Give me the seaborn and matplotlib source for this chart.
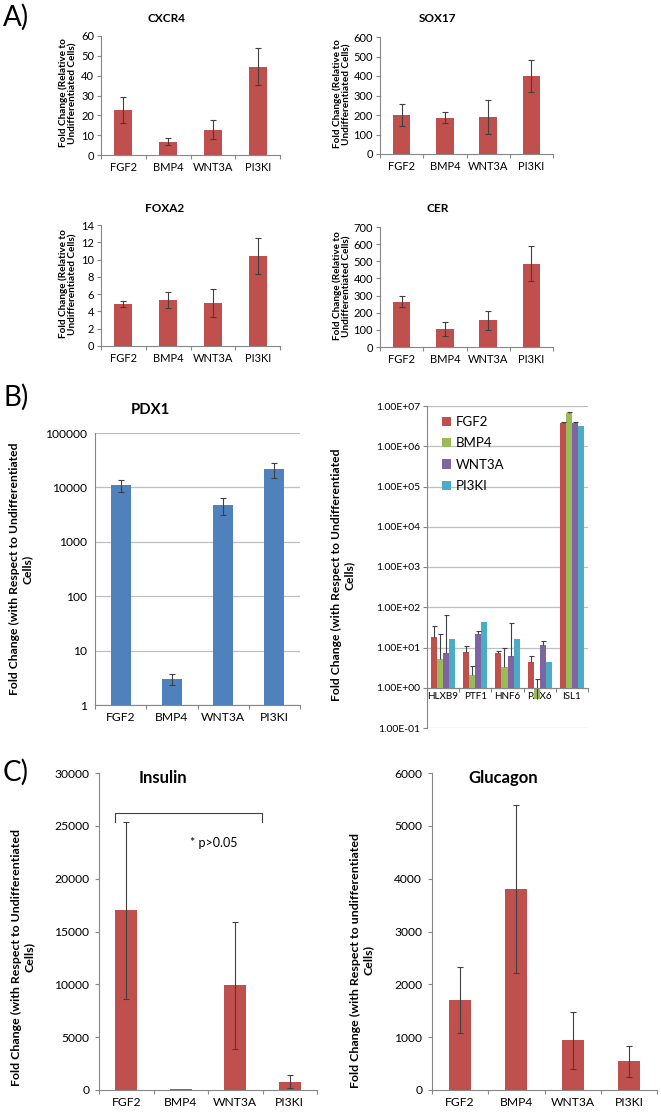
import numpy as np
import pandas as pd
import matplotlib
matplotlib.use("Agg")
import matplotlib.pyplot as plt
from matplotlib.ticker import FuncFormatter, NullLocator
import seaborn as sns

plt.rcParams["font.family"] = ["Lato", "DejaVu Sans"]

W, H = 661, 1116

treatments = ["FGF2", "BMP4", "WNT3A", "PI3KI"]

# panel A
cxcr4 = [22.6, 6.7, 12.7, 44.6]
cxcr4_err = [6.5, 1.7, 4.7, 9.3]
sox17 = [200, 185, 192, 401]
sox17_err = [55, 28, 87, 82]
foxa2 = [4.9, 5.3, 5.0, 10.4]
foxa2_err = [0.33, 0.95, 1.65, 2.1]
cer = [265, 103, 157, 487]
cer_err = [33, 40, 55, 103]

# panel B
pdx1 = [11000, 3.0, 4750, 21400]
pdx1_err = [2900, 0.7, 1700, 6800]

genes = ["HLXB9", "PTF1", "HNF6", "PAX6", "ISL1"]
fgf2_genes = [18.4, 7.7, 7.2, 4.4, 3.8e6]
fgf2_genes_err = [16.6, 3.4, 1.0, 1.6, 1e5]
bmp4_genes = [5.2, 2.1, 3.3, 0.52, 6.8e6]
bmp4_genes_err = [16.2, 1.3, 6.2, 1.14, 2e5]
wnt3a_genes = [7.2, 21.8, 6.2, 11.5, 3.8e6]
wnt3a_genes_err = [58.8, 3.2, 34.8, 3.2, 1e5]
pi3ki_genes = [16.7, 42, 15.9, 4.3, 3.2e6]
pi3ki_genes_err = [0, 0, 0, 0, 0]

# panel C
insulin = [17000, 100, 9900, 800]
insulin_err = [8350, 0, 6000, 600]
glucagon = [1700, 3800, 940, 540]
glucagon_err = [620, 1590, 540, 290]

RED = "#C0504D"
BLUE = "#4F81BD"
gene_colors = ["#C0504D", "#9BBB59", "#8064A2", "#4BACC6"]
AXIS_GRAY = "#868686"
GRID = "#BFBFBF"
ERR = "#404040"

fig = plt.figure(figsize=(W / 100, H / 100), dpi=100)


def px_axes(l, t, r, b):
    return fig.add_axes([l / W, 1 - b / H, (r - l) / W, (b - t) / H])


def ftext(x, y, s, **kw):
    fig.text(x / W, 1 - y / H, s, **kw)


def excel_axes(ax, ncat, fs):
    sns.despine(ax=ax)
    for s in ("left", "bottom"):
        ax.spines[s].set_color(AXIS_GRAY)
        ax.spines[s].set_linewidth(0.8)
    ax.set_xlim(-0.5, ncat - 0.5)
    ax.set_xticks(np.arange(ncat + 1) - 0.5, minor=True)
    ax.tick_params(axis="x", which="major", length=0, labelsize=fs, pad=5)
    ax.tick_params(axis="x", which="minor", length=3, color=AXIS_GRAY, width=0.8)
    ax.tick_params(axis="y", which="major", length=3, color=AXIS_GRAY, width=0.8, labelsize=fs, pad=2)
    ax.tick_params(axis="y", which="minor", length=0)
    ax.set_xlabel("")
    ax.set_ylabel("")


def bar_panel(ax, values, errs, color, width, fs, cap=2.2):
    df = pd.DataFrame({"treatment": treatments, "value": values, "err": errs})
    sns.barplot(data=df, x="treatment", y="value", color=color, width=width,
                saturation=1, linewidth=0, errorbar=None, ax=ax)
    xs = np.array([p.get_x() + p.get_width() / 2 for p in ax.patches])
    keep = df["err"].to_numpy() > 0
    ax.errorbar(xs[keep], df["value"][keep], yerr=df["err"][keep], fmt="none",
                ecolor=ERR, elinewidth=0.8, capsize=cap, capthick=0.8)
    excel_axes(ax, len(treatments), fs)


# ---------- A ----------
ylab_a = "Fold Change (Relative to\nUndifferentiated Cells)"
a_specs = [
    (cxcr4, cxcr4_err, "CXCR4", (101, 36, 280, 155), 60, 10, (166, 18), (68, 93)),
    (sox17, sox17_err, "SOX17", (380, 37, 553, 154), 600, 100, (438, 18), (342, 94)),
    (foxa2, foxa2_err, "FOXA2", (101, 225, 280, 346), 14, 2, (165, 208), (68, 284)),
    (cer, cer_err, "CER", (380, 227, 553, 347), 700, 100, (438, 208), (342, 286)),
]
for vals, errs, title, box, ymax, step, tpos, lpos in a_specs:
    ax = px_axes(*box)
    bar_panel(ax, vals, errs, RED, 0.4, 8)
    ax.set_ylim(0, ymax)
    ax.set_yticks(np.arange(0, ymax + step / 2, step))
    ftext(*tpos, title, ha="center", va="center", fontsize=8.5, fontweight="bold")
    ftext(*lpos, ylab_a, ha="center", va="center", rotation=90, fontsize=7.2,
          fontweight="bold", multialignment="center", linespacing=1.1)

ftext(3, 17, "A)", fontsize=20, va="center", ha="left")

# ---------- B ----------
ylab_b = "Fold Change (with Respect to Undifferentiated\nCells)"

ax = px_axes(95, 433, 300, 705)
bar_panel(ax, pdx1, pdx1_err, BLUE, 0.39, 8.7, cap=2.5)
ax.set_yscale("log")
ax.set_ylim(1, 1e5)
ax.set_yticks([1, 10, 100, 1000, 10000, 100000])
ax.yaxis.set_major_formatter(FuncFormatter(lambda v, _: f"{v:.0f}"))
ax.yaxis.set_minor_locator(NullLocator())
ax.tick_params(axis="y", length=0, pad=6)
ax.yaxis.grid(True, color=GRID, linewidth=0.9)
ax.set_axisbelow(True)
ftext(150, 410, "PDX1", ha="center", va="center", fontsize=10.7, fontweight="bold")
ftext(21, 569, ylab_b, ha="center", va="center", rotation=90, fontsize=8.7,
      fontweight="bold", multialignment="center", linespacing=1.2)
ftext(4, 397, "B)", fontsize=20, va="center", ha="left")

gene_vals = [fgf2_genes, bmp4_genes, wnt3a_genes, pi3ki_genes]
gene_errs = [fgf2_genes_err, bmp4_genes_err, wnt3a_genes_err, pi3ki_genes_err]
long = pd.DataFrame({
    "gene": genes * len(treatments),
    "treatment": np.repeat(treatments, len(genes)),
    "value": np.concatenate(gene_vals),
})
long["rise"] = long["value"] - 1

ax = px_axes(427, 406, 588, 728)
sns.barplot(data=long, x="gene", y="rise", hue="treatment", hue_order=treatments,
            palette=gene_colors, width=0.75, bottom=1, saturation=1, linewidth=0,
            errorbar=None, legend=False, ax=ax)
ax.set_yscale("log")
for cont, vals, errs in zip(ax.containers, gene_vals, gene_errs):
    for p, v, e in zip(cont.patches, vals, errs):
        if e > 0:
            _, caps, _ = ax.errorbar(p.get_x() + p.get_width() / 2, v, yerr=[[0], [e]],
                                     fmt="none", ecolor=ERR, elinewidth=0.8,
                                     capsize=1.8, capthick=0.8)
            if len(caps) == 2:
                caps[0].set_visible(False)
excel_axes(ax, len(genes), 7.1)
ax.set_ylim(0.1, 1e7)
ax.set_yticks([10.0 ** k for k in range(-1, 8)])
ax.yaxis.set_major_formatter(FuncFormatter(lambda v, _: f"{v:.2E}"))
ax.yaxis.set_minor_locator(NullLocator())
ax.tick_params(axis="y", labelsize=7.5)
ax.spines["bottom"].set_position(("data", 1))
ax.tick_params(axis="x", which="major", pad=3)
ax.yaxis.grid(True, color=GRID, linewidth=0.9)
ax.set_axisbelow(True)
ax.legend(ax.containers, treatments, loc="upper left", bbox_to_anchor=(0.06, 0.985),
          frameon=False, fontsize=9.5, handlelength=0.7, handleheight=0.7,
          handletextpad=0.35, labelspacing=0.7, borderaxespad=0)
ftext(343, 575, ylab_b, ha="center", va="center", rotation=90, fontsize=8.7,
      fontweight="bold", multialignment="center", linespacing=1.2)

# ---------- C ----------
ax = px_axes(99, 773, 317, 1090)
bar_panel(ax, insulin, insulin_err, RED, 0.4, 8.7, cap=2.5)
ax.set_ylim(0, 30000)
ax.set_yticks(np.arange(0, 30001, 5000))
ax.tick_params(axis="y", pad=4)
ax.plot([-0.21, -0.21, 2.49, 2.49], [25360, 26215, 26215, 25360], color="#404040", lw=0.8)
ax.text(1.17, 23400, "* p>0.05", fontsize=9, va="center", ha="left")
ftext(163, 778, "Insulin", ha="center", va="center", fontsize=12, fontweight="bold")
ftext(23, 957, ylab_b, ha="center", va="center", rotation=90, fontsize=8.9,
      fontweight="bold", multialignment="center", linespacing=1.2)
ftext(3, 772, "C)", fontsize=20, va="center", ha="left")

ax = px_axes(432, 773, 657, 1090)
bar_panel(ax, glucagon, glucagon_err, RED, 0.39, 8.7, cap=2.5)
ax.set_ylim(0, 6000)
ax.set_yticks(np.arange(0, 6001, 1000))
ax.tick_params(axis="y", pad=4)
ftext(503, 778, "Glucagon", ha="center", va="center", fontsize=12, fontweight="bold")
ftext(362, 960, "Fold Change (with Respect to undifferentiated\nCells)", ha="center",
      va="center", rotation=90, fontsize=8.9, fontweight="bold",
      multialignment="center", linespacing=1.2)

fig.savefig("out.png", dpi=100)
